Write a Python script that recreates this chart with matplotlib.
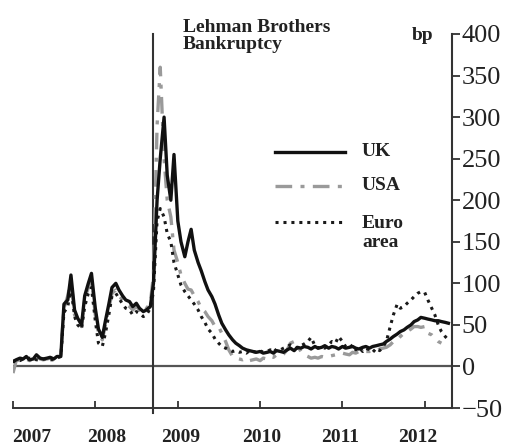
import matplotlib
matplotlib.use("Agg")
import matplotlib.pyplot as plt
import matplotlib.dates as mdates
from matplotlib.lines import Line2D
import pandas as pd
import numpy as np

# ---------------- data (semi-monthly, bp) ----------------
dates = pd.date_range("2007-01-01", "2012-04-15", freq="SMS")

uk = [6, 8, 10, 9, 12, 8, 9, 14, 10, 9, 10, 11, 9, 12,          # Jan-Jul 2007
      12, 75, 80, 110, 68, 58, 50, 85, 100, 112,                # Aug-Dec 2007
      70, 45, 35, 55, 75, 95, 100, 92, 85, 80, 78, 72,          # Jan-Jun 2008
      76, 70, 66, 68, 72, 100, 200, 250, 300, 230, 200, 255,    # Jul-Dec 2008
      175, 150, 132, 150, 165, 140, 125, 115, 102, 92, 84, 75,  # Jan-Jun 2009
      62, 52, 44, 38, 32, 28, 25, 22, 20, 19, 18, 17,           # Jul-Dec 2009
      18, 16, 17, 18, 16, 19, 18, 17, 20, 22, 19, 23,           # Jan-Jun 2010
      22, 24, 23, 21, 24, 22, 23, 25, 22, 24, 23, 21,           # Jul-Dec 2010
      24, 22, 23, 24, 22, 21, 23, 24, 22, 24, 25, 26,           # Jan-Jun 2011
      27, 30, 33, 36, 39, 42, 44, 47, 50, 54, 56, 59,           # Jul-Dec 2011
      58, 57, 56, 55, 55, 54, 53, 52]                           # Jan-Apr 2012

usa = [-8, 7, 8, 10, 9, 7, 8, 12, 9, 8, 9, 10, 8, 11,
       14, 70, 85, 105, 62, 55, 48, 80, 95, 105,
       62, 40, 32, 50, 70, 88, 92, 85, 80, 75, 72, 68,
       72, 68, 64, 70, 76, 110, 290, 360, 250, 200, 180, 140,
       125, 110, 100, 93, 92, 85, 78, 70, 66, 60, 55, 48,
       48, 40, 30, 20, 12, 10, 9, 8, 10, 7, 8, 9,
       7, 10, 9, 12, 11, 14, 13, 15, 20, 28, 30, 25,
       18, 14, 12, 10, 11, 10, 12, 11, 12, 13, 14, 15,
       16, 15, 14, 17, 16, 18, 17, 18, 18, 19, 19, 21,
       22, 23, 26, 30, 32, 36, 40, 42, 45, 48, 48, 47,
       48, 40, 38, 34, 30, 28, np.nan, np.nan]

euro = [5, 8, 7, 9, 8, 10, 9, 8, 8, 9, 9, 8, 8, 10,
        12, 65, 72, 95, 60, 50, 45, 72, 88, 95,
        55, 28, 24, 40, 62, 85, 88, 82, 75, 70, 68, 62,
        66, 64, 60, 62, 70, 90, 175, 190, 180, 160, 150, 125,
        110, 98, 90, 85, 80, 75, 68, 60, 53, 45, 40, 33,
        28, 24, 22, 20, 18, 19, 17, 18, 16, 19, 18, 17,
        19, 17, 18, 20, 17, 21, 20, 22, 24, 26, 24, 22,
        25, 27, 30, 35, 25, 22, 24, 22, 26, 30, 28, 36,
        30, 24, 22, 26, 20, 23, 18, 22, 20, 17, 22, 19,
        24, 30, 48, 62, 75, 70, 72, 76, 80, 84, 88, 90,
        89, 80, 70, 62, 50, 42, 36, 32]

series_names = ["UK", "USA", "Euro\narea"]
year_labels = ["2007", "2008", "2009", "2010", "2011", "2012"]
yticks = [-50, 0, 50, 100, 150, 200, 250, 300, 350, 400]
lehman_date = pd.Timestamp("2008-09-15")

assert len(uk) == len(dates) == len(usa) == len(euro)

# ---------------- figure ----------------
W, H = 519, 448
fig = plt.figure(figsize=(W / 100, H / 100), dpi=100)
fig.patch.set_facecolor("white")
ax = fig.add_axes([13 / W, 1 - 408 / H, (452 - 13) / W, (408 - 34) / H])

serif = "Liberation Serif"
dark = "#222222"

ax.plot(dates, usa, color="#9a9a9a", lw=2.4, ls=(0, (5, 2.5, 1.2, 2.5)), zorder=3)
ax.plot(dates, euro, color="#1a1a1a", lw=2.2, ls=(0, (1, 1.6)), zorder=4)
ax.plot(dates, uk, color="#111111", lw=2.4, zorder=5)

ax.set_xlim(pd.Timestamp("2007-01-01"), pd.Timestamp("2012-05-01"))
ax.set_ylim(-50, 400)

# zero line and Lehman line
ax.axhline(0, color="#555555", lw=1.6, zorder=2)
ax.axvline(lehman_date, ymin=-0.014, ymax=1.0, color="#333333", lw=1.5,
           clip_on=False, zorder=2)

# spines
for s in ["left", "top"]:
    ax.spines[s].set_visible(False)
ax.spines["right"].set_color("#333333")
ax.spines["right"].set_linewidth(1.5)
ax.spines["bottom"].set_color("#333333")
ax.spines["bottom"].set_linewidth(1.4)

ax.yaxis.tick_right()
ax.set_yticks(yticks)
ax.set_yticklabels([str(v).replace("-", "\u2212") for v in yticks],
                   fontfamily=serif, fontsize=19, color=dark)
ax.tick_params(axis="y", direction="out", length=6, width=1.3, pad=1,
               colors="#333333", labelcolor=dark)

year_ticks = [pd.Timestamp(f"{y}-01-01") for y in year_labels]
ax.set_xticks(year_ticks)
ax.set_xticklabels([])
ax.tick_params(axis="x", direction="in", length=5, width=1.3, colors="#333333")

# year labels (placed slightly off the ticks as in reference)
label_px = [32, 107, 181, 262, 340, 418]
for lab, px in zip(year_labels, label_px):
    fig.text(px / W, 1 - 437 / H, lab, fontfamily=serif, fontweight="bold",
             fontsize=14, color=dark, ha="center", va="center")

# annotations
fig.text(183 / W, 1 - 36 / H, "Lehman Brothers\nBankruptcy", fontfamily=serif,
         fontweight="bold", fontsize=14, color=dark, ha="left", va="center",
         linespacing=1.05)
fig.text(412 / W, 1 - 36 / H, "bp", fontfamily=serif, fontweight="bold",
         fontsize=14, color=dark, ha="left", va="center")

# manual legend
leg_styles = [
    dict(color="#111111", lw=2.4, ls="-"),
    dict(color="#9a9a9a", lw=2.4, ls=(0, (5, 2.5, 1.2, 2.5))),
    dict(color="#1a1a1a", lw=2.2, ls=(0, (1, 1.6))),
]
leg_y = [152, 186, 222]
text_y = [152, 186, 233]
for name, st, ly, ty in zip(series_names, leg_styles, leg_y, text_y):
    fig.add_artist(Line2D([275 / W, 345 / W], [1 - ly / H, 1 - ly / H],
                          transform=fig.transFigure, **st))
    fig.text(362 / W, 1 - ty / H, name, fontfamily=serif, fontweight="bold",
             fontsize=14, color=dark, ha="left", va="center", linespacing=1.1)

fig.savefig("out.png", dpi=100, facecolor="white")
